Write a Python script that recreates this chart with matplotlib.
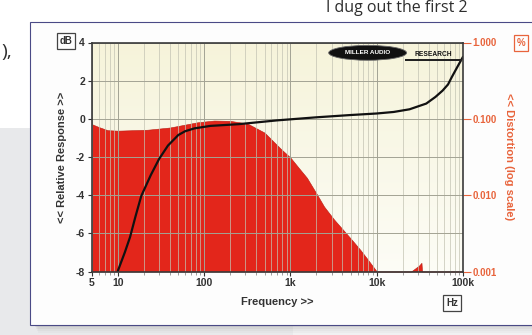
import numpy as np
import matplotlib.pyplot as plt
from matplotlib.patches import Rectangle, Ellipse
from matplotlib.ticker import NullLocator, NullFormatter, LogLocator

plt.rcParams['axes.unicode_minus'] = False

# frequency response (black curve), dB
freq_resp = [9, 10, 12, 13.8, 16, 18.6, 24, 30, 38, 50, 60, 77, 118, 250, 700,
             2000, 5000, 10000, 15700, 24000, 37500, 48000, 58000, 67000, 74000, 86000, 100000]
resp_db = [-8.9, -7.95, -7.0, -6.2, -5.1, -4.05, -2.95, -2.1, -1.4, -0.85, -0.65, -0.5, -0.37, -0.28, -0.08,
           0.08, 0.2, 0.28, 0.36, 0.5, 0.8, 1.15, 1.48, 1.8, 2.18, 2.72, 3.25]

# distortion (red area), percent
freq_dist = [5, 6, 7.6, 10, 22, 40, 83, 130, 200, 315, 500, 780, 1000, 1250, 1550, 2000, 2450,
             3200, 4000, 5300, 6500, 8000, 10000, 25000, 31000, 33000, 33500, 100000]
dist_pct = [0.085, 0.078, 0.071, 0.070, 0.072, 0.077, 0.090, 0.095, 0.094, 0.087, 0.066, 0.040, 0.031,
            0.0227, 0.0169, 0.0105, 0.0071, 0.0048, 0.0036, 0.0025, 0.0019, 0.0014, 0.0010, 0.0010,
            0.0012, 0.0013, 0.0010, 0.0010]

db_ticks = [-8, -6, -4, -2, 0, 2, 4]
f_ticks = [5, 10, 100, 1000, 10000, 100000]
f_labels = ['5', '10', '100', '1k', '10k', '100k']
pct_ticks = [0.001, 0.01, 0.1, 1.0]
pct_labels = ['0.001', '0.010', '0.100', '1.000']

W, H = 532, 335
dark = '#333333'
orange = '#e8643c'
red = '#e3261b'

def fx(x):
    return x / W

def fy(y):
    return 1 - y / H

fig = plt.figure(figsize=(W / 100, H / 100), dpi=100)
fig.patch.set_facecolor('white')

# page background
fig.add_artist(Rectangle((fx(0), fy(335)), fx(293), fy(128) - fy(335), transform=fig.transFigure,
                         facecolor='#e8e9eb', edgecolor='none', zorder=-10))
fig.add_artist(Rectangle((fx(293), fy(335)), fx(239), fy(128) - fy(335), transform=fig.transFigure,
                         facecolor='#f1f1f2', edgecolor='none', zorder=-10))

# card shadow + card
for i, a in enumerate([0.10, 0.08, 0.06, 0.04, 0.03]):
    fig.add_artist(Rectangle((fx(34 + i), fy(325 + 2 * i)), fx(560), fy(24) - fy(325),
                             transform=fig.transFigure, facecolor='#505050', edgecolor='none',
                             alpha=a, zorder=-9))
fig.add_artist(Rectangle((fx(30), fy(325)), fx(540), fy(22) - fy(325), transform=fig.transFigure,
                         facecolor='#fdfdfd', edgecolor='#4a4a86', lw=0.8, zorder=-8))

# article text fragments
fig.text(fx(1), fy(57), '),', fontsize=14, family='Open Sans', color='#2e2e2e', va='baseline')
fig.text(fx(326), fy(12), 'I dug out the first 2', fontsize=11.5, family='Open Sans',
         color='#2e2e2e', va='baseline')

rect = [fx(92), fy(271.5), fx(371), fy(42.5) - fy(271.5)]

# background gradient of the plot area
bg = fig.add_axes(rect, zorder=0)
grad = np.linspace(0, 1, 100)[:, None]
top_c = np.array([0.965, 0.955, 0.855])
bot_c = np.array([0.99, 0.99, 0.965])
img = top_c[None, None, :] * (1 - grad[:, :, None]) + bot_c[None, None, :] * grad[:, :, None]
bg.imshow(img, aspect='auto', extent=[0, 1, 0, 1])
bg.axis('off')

ax = fig.add_axes(rect, zorder=2)
ax2 = ax.twinx()
ax2.set_zorder(1)
ax.patch.set_visible(False)
ax2.patch.set_visible(False)

# distortion area on the right log axis
ax2.set_xscale('log')
ax2.set_yscale('log')
ax2.fill_between(freq_dist, dist_pct, 0.001, facecolor=red, edgecolor='#b81c12', lw=0.4)
ax2.set_ylim(0.001, 1.0)
ax2.set_yticks(pct_ticks)
ax2.set_yticklabels(pct_labels)
ax2.yaxis.set_minor_locator(NullLocator())
ax2.tick_params(axis='y', colors=orange, labelsize=7, length=6, width=0.8, pad=1)
for lab in ax2.get_yticklabels():
    lab.set_fontweight('bold')
    lab.set_family('Liberation Sans')
for s in ax2.spines.values():
    s.set_visible(False)

# frequency response on the left dB axis
ax.set_xscale('log')
ax.grid(which='major', axis='both', color='#a3a394', lw=0.7)
ax.grid(which='minor', axis='x', color='#c3c3b3', lw=0.5)
ax.plot(freq_resp, resp_db, color='#111111', lw=1.6, solid_capstyle='round')
ax.set_xlim(5, 100000)
ax.set_ylim(-8, 4)
ax.set_yticks(db_ticks)
ax.set_xticks(f_ticks)
ax.set_xticklabels(f_labels)
ax.xaxis.set_minor_locator(LogLocator(base=10, subs=np.arange(2, 10)))
ax.xaxis.set_minor_formatter(NullFormatter())
ax.tick_params(axis='both', which='major', colors=dark, labelsize=7.5, length=3, width=0.8, pad=2)
ax.tick_params(axis='x', which='minor', colors='#777777', length=2, width=0.5)
for lab in ax.get_xticklabels() + ax.get_yticklabels():
    lab.set_fontweight('bold')
    lab.set_family('Liberation Sans')
for s in ax.spines.values():
    s.set_color('#3a3a3a')
    s.set_linewidth(1.2)

ax.set_xlabel('Frequency >>', fontsize=8, fontweight='bold', family='Liberation Sans', color=dark,
              labelpad=6)
ax.set_ylabel('<< Relative Response >>', fontsize=8, fontweight='bold', family='Liberation Sans',
              color=dark, labelpad=6)
ax2.set_ylabel('<< Distortion (log scale)', fontsize=8, fontweight='bold', family='Liberation Sans',
               color=orange, rotation=270, labelpad=12)

# unit boxes
box = dict(boxstyle='square,pad=0.3', facecolor='none', edgecolor='#444444', lw=0.9)
fig.text(fx(66), fy(41), 'dB', fontsize=7, fontweight='bold', family='Liberation Sans', color=dark,
         ha='center', va='center', bbox=box)
fig.text(fx(452), fy(303), 'Hz', fontsize=7, fontweight='bold', family='Liberation Sans', color=dark,
         ha='center', va='center', bbox=box)
fig.text(fx(521), fy(43), '%', fontsize=7, fontweight='bold', family='Liberation Sans', color=orange,
         ha='center', va='center',
         bbox=dict(boxstyle='square,pad=0.3', facecolor='none', edgecolor=orange, lw=0.9))

# logo
ax.add_patch(Ellipse((0.743, 0.955), 0.21, 0.065, transform=ax.transAxes, facecolor='#111111',
                     edgecolor='#666666', lw=0.6, zorder=5))
ax.text(0.743, 0.955, 'MILLER AUDIO', transform=ax.transAxes, fontsize=4.6, fontweight='bold',
        color='white', ha='center', va='center', family='Liberation Sans', zorder=6)
ax.add_patch(Rectangle((0.845, 0.918), 0.152, 0.01, transform=ax.transAxes, facecolor='#222222',
                       edgecolor='none', zorder=5))
ax.text(0.921, 0.948, 'RESEARCH', transform=ax.transAxes, fontsize=4.8, fontweight='bold',
        color='#111111', ha='center', va='center', family='Liberation Sans', zorder=6)

fig.savefig('out.png', dpi=100)
